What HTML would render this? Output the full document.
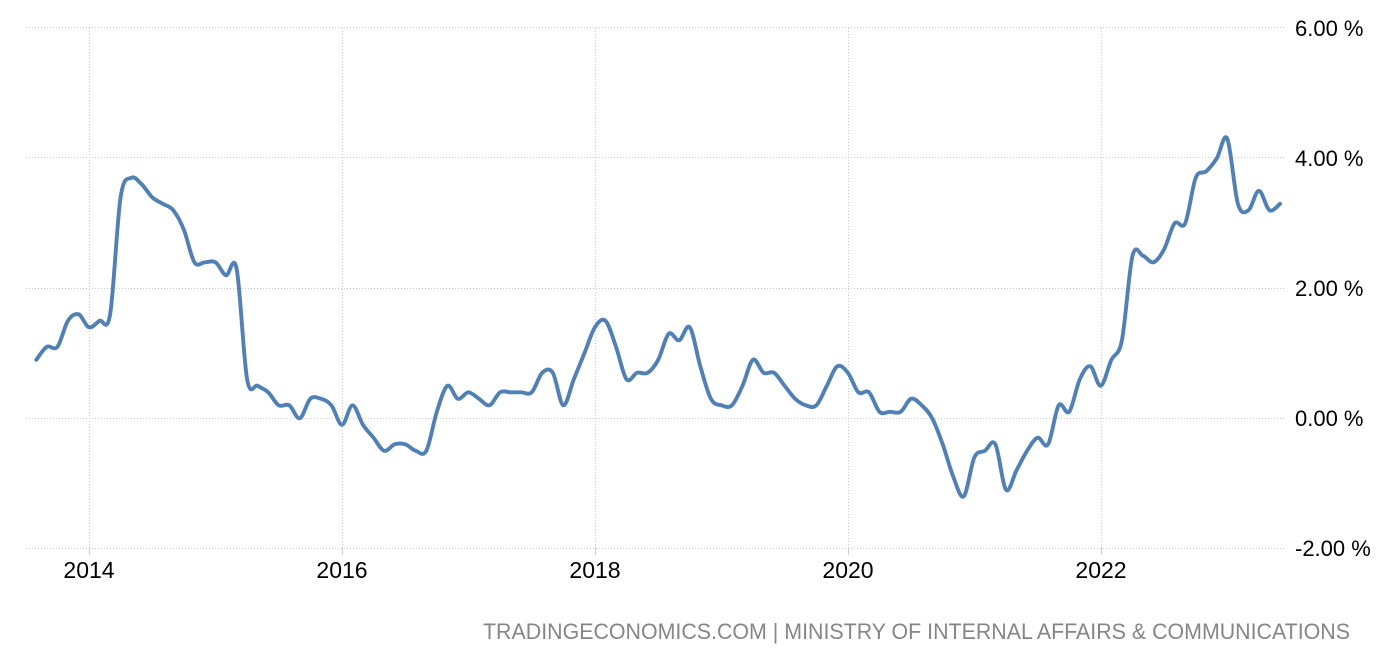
<!DOCTYPE html>
<html>
<head>
<meta charset="utf-8">
<style>
  html, body { margin: 0; padding: 0; background: #ffffff; }
  body { width: 1388px; height: 660px; overflow: hidden; }
  svg { display: block; }
  .ylab { font-family: "Liberation Sans", sans-serif; font-size: 22px; fill: #000; }
  .xlab { font-family: "Liberation Sans", sans-serif; font-size: 23px; fill: #000; }
  .foot { font-family: "Liberation Sans", sans-serif; font-size: 22px; fill: #868686; }
</style>
</head>
<body>
<svg width="1388" height="660" viewBox="0 0 1388 660" xmlns="http://www.w3.org/2000/svg">
  <!-- horizontal grid -->
  <g stroke="#c8c8c8" stroke-width="1" stroke-dasharray="1,2" fill="none">
    <line x1="26" y1="27.5" x2="1284" y2="27.5"/>
    <line x1="26" y1="157.5" x2="1284" y2="157.5"/>
    <line x1="26" y1="288.5" x2="1284" y2="288.5"/>
    <line x1="26" y1="418.5" x2="1284" y2="418.5"/>
    <line x1="26" y1="548.5" x2="1284" y2="548.5"/>
  </g>
  <!-- vertical grid -->
  <g stroke="#c8c8c8" stroke-width="1" stroke-dasharray="1,2" fill="none">
    <line x1="89.5" y1="28" x2="89.5" y2="548"/>
    <line x1="342.5" y1="28" x2="342.5" y2="548"/>
    <line x1="595.5" y1="28" x2="595.5" y2="548"/>
    <line x1="848.5" y1="28" x2="848.5" y2="548"/>
    <line x1="1101.5" y1="28" x2="1101.5" y2="548"/>
  </g>
  <!-- ticks -->
  <g stroke="#cccccc" stroke-width="1">
    <line x1="89.5" y1="548" x2="89.5" y2="555"/>
    <line x1="342.5" y1="548" x2="342.5" y2="555"/>
    <line x1="595.5" y1="548" x2="595.5" y2="555"/>
    <line x1="848.5" y1="548" x2="848.5" y2="555"/>
    <line x1="1101.5" y1="548" x2="1101.5" y2="555"/>
  </g>

  <!-- y labels -->
  <text class="ylab" x="1295" y="36">6.00 %</text>
  <text class="ylab" x="1295" y="166">4.00 %</text>
  <text class="ylab" x="1295" y="296">2.00 %</text>
  <text class="ylab" x="1295" y="426">0.00 %</text>
  <text class="ylab" x="1295" y="556">-2.00 %</text>

  <!-- x labels -->
  <text class="xlab" x="89" y="578" text-anchor="middle">2014</text>
  <text class="xlab" x="342" y="578" text-anchor="middle">2016</text>
  <text class="xlab" x="595" y="578" text-anchor="middle">2018</text>
  <text class="xlab" x="848" y="578" text-anchor="middle">2020</text>
  <text class="xlab" x="1101" y="578" text-anchor="middle">2022</text>

  <!-- series -->
  <polyline id="fallback" fill="none" stroke="#5080b4" stroke-width="3.9" stroke-linejoin="round" stroke-linecap="round"
    points="36.3,359.8 46.8,346.8 57.4,346.8 67.9,320.8 78.5,314.3 89.0,327.3 99.5,320.8 110.1,314.3 120.6,197.3 131.2,177.8 141.7,184.3 152.2,197.3 162.8,203.8 173.3,210.3 183.9,229.8 194.4,262.3 204.9,262.3 215.5,262.3 226.0,275.3 236.6,268.8 247.1,379.3 257.6,385.8 268.2,392.3 278.7,405.3 289.3,405.3 299.8,418.3 310.3,398.8 320.9,398.8 331.4,405.3 342.0,424.8 352.5,405.3 363.0,424.8 373.6,437.8 384.1,450.8 394.7,444.3 405.2,444.3 415.7,450.8 426.3,450.8 436.8,411.8 447.4,385.8 457.9,398.8 468.4,392.3 479.0,398.8 489.5,405.3 500.1,392.3 510.6,392.3 521.1,392.3 531.7,392.3 542.2,372.8 552.8,372.8 563.3,405.3 573.8,379.3 584.4,353.3 594.9,327.3 605.5,320.8 616.0,346.8 626.5,379.3 637.1,372.8 647.6,372.8 658.2,359.8 668.7,333.8 679.2,340.3 689.8,327.3 700.3,366.3 710.9,398.8 721.4,405.3 731.9,405.3 742.5,385.8 753.0,359.8 763.6,372.8 774.1,372.8 784.6,385.8 795.2,398.8 805.7,405.3 816.3,405.3 826.8,385.8 837.3,366.3 847.9,372.8 858.4,392.3 869.0,392.3 879.5,411.8 890.0,411.8 900.6,411.8 911.1,398.8 921.7,405.3 932.2,418.3 942.7,444.3 953.3,476.8 963.8,496.3 974.4,457.3 984.9,450.8 995.4,444.3 1006.0,489.8 1016.5,470.3 1027.1,450.8 1037.6,437.8 1048.1,444.3 1058.7,405.3 1069.2,411.8 1079.8,379.3 1090.3,366.3 1100.8,385.8 1111.4,359.8 1121.9,340.3 1132.5,255.8 1143.0,255.8 1153.5,262.3 1164.1,249.3 1174.6,223.3 1185.2,223.3 1195.7,177.8 1206.2,171.3 1216.8,158.3 1227.3,138.8 1237.9,203.8 1248.4,210.3 1258.9,190.8 1269.5,210.3 1280.0,203.8"/>
  <path id="smooth" fill="none" stroke="#5080b4" stroke-width="3.9" stroke-linejoin="round" stroke-linecap="round" d=""/>

  <!-- footer -->
  <text class="foot" x="483" y="639" textLength="867" lengthAdjust="spacingAndGlyphs">TRADINGECONOMICS.COM | MINISTRY OF INTERNAL AFFAIRS &amp; COMMUNICATIONS</text>
</svg>
<script>
(function(){
  var pl = document.getElementById('fallback');
  var raw = pl.getAttribute('points').trim().split(/\s+/);
  var p = raw.map(function(s){ var a = s.split(','); return [parseFloat(a[0]), parseFloat(a[1])]; });
  var n = p.length;
  var d = 'M' + p[0][0].toFixed(2) + ',' + p[0][1].toFixed(2);
  for (var i = 0; i < n - 1; i++) {
    var p0 = p[i > 0 ? i - 1 : 0], p1 = p[i], p2 = p[i + 1], p3 = p[i + 2 < n ? i + 2 : n - 1];
    var c1x = p1[0] + (p2[0] - p0[0]) / 6, c1y = p1[1] + (p2[1] - p0[1]) / 6;
    var c2x = p2[0] - (p3[0] - p1[0]) / 6, c2y = p2[1] - (p3[1] - p1[1]) / 6;
    d += ' C' + c1x.toFixed(2) + ',' + c1y.toFixed(2) + ' ' + c2x.toFixed(2) + ',' + c2y.toFixed(2) + ' ' + p2[0].toFixed(2) + ',' + p2[1].toFixed(2);
  }
  document.getElementById('smooth').setAttribute('d', d);
  pl.style.display = 'none';
})();
</script>
</body>
</html>
